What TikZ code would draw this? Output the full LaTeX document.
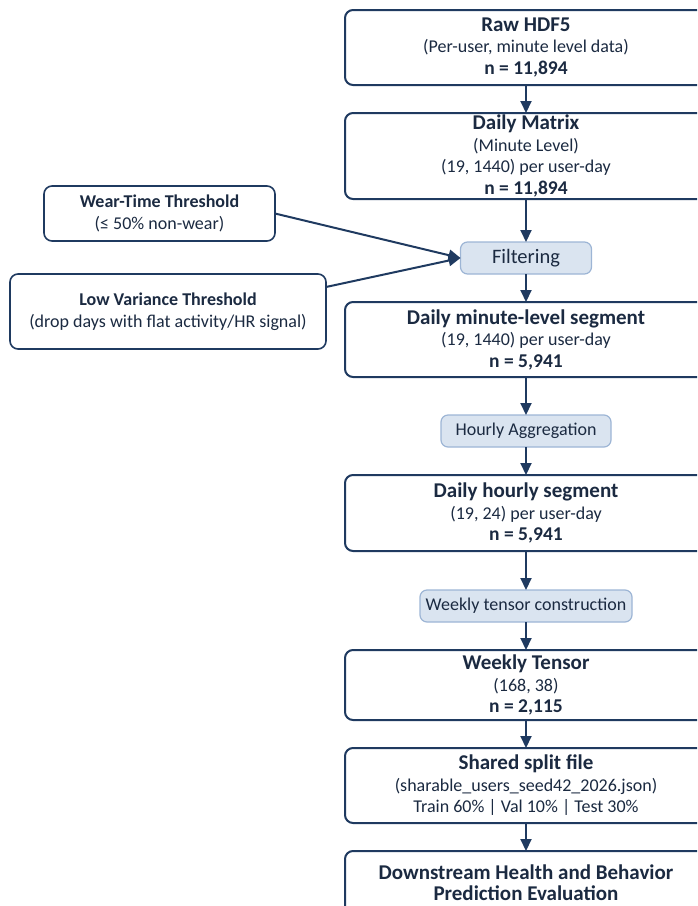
\documentclass[tikz,border=0pt]{standalone}
\usepackage{fontspec}
\setmainfont{Carlito}
\usetikzlibrary{arrows.meta,positioning}

\definecolor{navy}{HTML}{1F3A60}
\definecolor{ink}{HTML}{1B2A41}
\definecolor{stepfill}{HTML}{DAE4F0}
\definecolor{stepline}{HTML}{9DB5D5}

\newcommand{\hd}[1]{{\fontsize{21}{21}\selectfont\bfseries #1}}
\newcommand{\cnt}[1]{{\fontsize{19.5}{21}\selectfont\bfseries #1}}

\begin{document}
\begin{tikzpicture}[
		x=1pt, y=-1pt,
		arrow/.style={-{Triangle[length=12pt,width=11pt]}, draw=navy, line width=2pt},
		block/.style={draw=navy, line width=2pt, rounded corners=8pt, fill=white, text=ink, align=center,
			minimum width=362pt, minimum height=75pt, inner sep=0pt, outer sep=0pt, font=\fontsize{18}{21.5}\selectfont},
		stage/.style={draw=stepline, line width=1.2pt, rounded corners=7pt, fill=stepfill, text=ink,
			minimum height=32pt, inner sep=0pt, outer sep=0pt, font=\fontsize{18}{20}\selectfont},
		side/.style={draw=navy, line width=1.6pt, rounded corners=8pt, fill=white, text=ink, align=center,
			inner sep=0pt, outer sep=0pt, font=\fontsize{18}{22.5}\selectfont},
		node distance=28pt,
	]
		\useasboundingbox (0,0) rectangle (697,906);
		\clip (0,0) rectangle (697,906);

		\node (raw) [block] at (526,47.5) {\hd{Raw HDF5}\\(Per-user, minute level data)\\\cnt{n = 11,894}};
		\node (mat) [block, minimum height=86pt, below=of raw] {\hd{Daily Matrix}\\(Minute Level)\\(19, 1440) per user-day\\\cnt{n = 11,894}};
		\node (filt) [stage, minimum width=131pt, font=\fontsize{20.5}{20}\selectfont, below=43pt of mat] {Filtering};
		\node (minseg) [block, below=of filt] {\hd{Daily minute-level segment}\\(19, 1440) per user-day\\\cnt{n = 5,941}};
		\node (hagg) [stage, minimum width=170pt, below=38pt of minseg] {Hourly Aggregation};
		\node (hseg) [block, minimum height=76pt, below=of hagg] {\hd{Daily hourly segment}\\(19, 24) per user-day\\\cnt{n = 5,941}};
		\node (wtc) [stage, minimum width=212pt, below=39pt of hseg] {Weekly tensor construction};
		\node (wten) [block, minimum height=70pt, below=of wtc] {\hd{Weekly Tensor}\\(168, 38)\\\cnt{n = 2,115}};
		\node (split) [block, below=of wten] {\hd{Shared split file}\\(sharable\_users\_seed42\_2026.json)\\Train 60\% | Val 10\% | Test 30\%};
		\node (eval) [block, minimum height=63pt, below=of split] {\hd{Downstream Health and Behavior}\\\hd{Prediction Evaluation}};

		% thresholds feeding the filter
		\node (wear) [side, minimum width=231pt, minimum height=55pt] at (159.5,213.5) {\textbf{Wear-Time Threshold}\\(≤ 50\% non-wear)};
		\node (lowvar) [side, minimum width=316pt, minimum height=75pt] at (168,311.5) {\textbf{Low Variance Threshold}\\(drop days with flat activity/HR signal)};
		\coordinate (lvout) at ([yshift=-13pt]lowvar.north east);

		\draw[arrow] (raw) -- (mat);
		\draw[arrow] (mat) -- (filt);
		\draw[arrow] (filt) -- (minseg);
		\draw[arrow] (minseg) -- (hagg);
		\draw[arrow] (hagg) -- (hseg);
		\draw[arrow] (hseg) -- (wtc);
		\draw[arrow] (wtc) -- (wten);
		\draw[arrow] (wten) -- (split);
		\draw[arrow] (split) -- (eval);
		\draw[arrow] (wear.east) -- (filt.west);
		\draw[arrow] (lvout) -- (filt.west);
	\end{tikzpicture}
\end{document}
